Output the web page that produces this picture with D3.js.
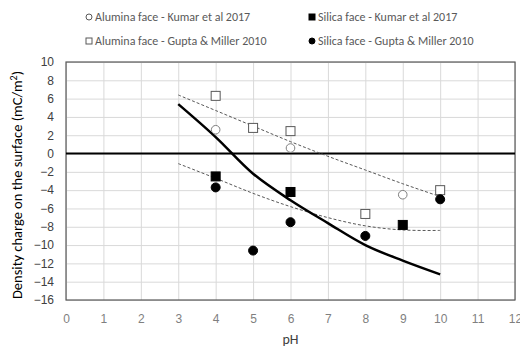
<!DOCTYPE html>
<html>
<head>
<meta charset="utf-8">
<script src="https://cdn.jsdelivr.net/npm/d3@7"></script>
<style>
  body { margin: 0; background: #fff; }
  svg { font-family: Carlito, "Open Sans", "Liberation Sans", sans-serif; }
</style>
</head>
<body>
<div class="c-chart"></div>
<script>
var aluminaKumar = [[4, 2.6], [6, 0.6], [9, -4.5]];
var silicaKumar = [[4, -2.5], [6, -4.2], [9, -7.8]];
var aluminaGupta = [[4, 6.3], [5, 2.8], [6, 2.45], [8, -6.6], [10, -4.0]];
var silicaGupta = [[4, -3.7], [5, -10.6], [6, -7.5], [8, -9.0], [10, -5.0]];

// model curves
var modelLine = [[3, 5.4], [4, 1.8], [5, -2.2], [6, -5.1], [7, -7.6], [8, -10.0], [9, -11.7], [10, -13.2]];
var upperTrend = [[3, 6.4], [4, 4.7], [5, 3.0], [6, 1.3], [7, -0.3], [8, -1.8], [9, -3.3], [10, -4.7]];
var lowerTrend = [[3, -1.1], [4, -2.7], [5, -4.35], [6, -5.8], [7, -7.0], [8, -7.9], [9, -8.35], [10, -8.4]];

var xTicks = d3.range(0, 13, 1);
var yTicks = d3.range(-16, 11, 2);

var legendItems = [
    { label: "Alumina face - Kumar et al 2017", shape: "circle", fill: false },
    { label: "Silica face - Kumar et al 2017", shape: "square", fill: true },
    { label: "Alumina face - Gupta & Miller 2010", shape: "square", fill: false },
    { label: "Silica face - Gupta & Miller 2010", shape: "circle", fill: true }
];

var W = 520, H = 349;
var margin = { top: 62, right: 5, bottom: 49, left: 66 };
var width = W - margin.left - margin.right;
var height = H - margin.top - margin.bottom;

var svg = d3.select(".c-chart").append("svg")
    .attr("width", W).attr("height", H);

var g = svg.append("g")
    .attr("transform", "translate(" + margin.left + "," + margin.top + ")");

var xScale = d3.scaleLinear().domain([0, 12]).range([0, width]);
var yScale = d3.scaleLinear().domain([-16, 10]).range([height, 0]);

// grid
g.append("g")
    .attr("transform", "translate(0," + height + ")")
    .call(d3.axisBottom(xScale).tickValues(xTicks).tickSize(-height).tickFormat(""))
    .call(function (s) {
        s.select(".domain").remove();
        s.selectAll("line").attr("stroke", "#d9d9d9");
    });
g.append("g")
    .call(d3.axisLeft(yScale).tickValues(yTicks).tickSize(-width).tickFormat(""))
    .call(function (s) {
        s.select(".domain").remove();
        s.selectAll("line").attr("stroke", "#d9d9d9");
    });

// frame
g.append("rect")
    .attr("width", width).attr("height", height)
    .attr("fill", "none").attr("stroke", "#595959").attr("stroke-width", 1.2);

// axis labels
var xAxis = g.append("g")
    .attr("transform", "translate(0," + height + ")")
    .call(d3.axisBottom(xScale).tickValues(xTicks).tickSize(0).tickPadding(14));
xAxis.select(".domain").remove();
xAxis.selectAll("text").attr("fill", "#7f7f7f").style("font-size", "12px");

var yAxis = g.append("g")
    .call(d3.axisLeft(yScale).tickValues(yTicks).tickSize(0).tickPadding(12));
yAxis.select(".domain").remove();
yAxis.selectAll("text").attr("fill", "#404040").style("font-size", "12px");

// zero line
g.append("line")
    .attr("x1", 0).attr("x2", width)
    .attr("y1", yScale(0)).attr("y2", yScale(0))
    .attr("stroke", "#000").attr("stroke-width", 2);

var line = d3.line()
    .x(function (d) { return xScale(d[0]); })
    .y(function (d) { return yScale(d[1]); })
    .curve(d3.curveCatmullRom);

g.append("path").datum(upperTrend).attr("d", line)
    .attr("fill", "none").attr("stroke", "#595959").attr("stroke-width", 1)
    .attr("stroke-dasharray", "3,2");
g.append("path").datum(lowerTrend).attr("d", line)
    .attr("fill", "none").attr("stroke", "#595959").attr("stroke-width", 1)
    .attr("stroke-dasharray", "3,2");
g.append("path").datum(modelLine).attr("d", line)
    .attr("fill", "none").attr("stroke", "#000").attr("stroke-width", 2.5);

function drawMarkers(data, shape, filled) {
    var sel = g.append("g").selectAll(shape === "circle" ? "circle" : "rect")
        .data(data).enter();
    if (shape === "circle") {
        sel.append("circle")
            .attr("cx", function (d) { return xScale(d[0]); })
            .attr("cy", function (d) { return yScale(d[1]); })
            .attr("r", filled ? 4.5 : 4.3)
            .attr("fill", filled ? "#000" : "#fff")
            .attr("stroke", filled ? "#000" : "#7f7f7f")
            .attr("stroke-width", 1);
    } else {
        sel.append("rect")
            .attr("x", function (d) { return xScale(d[0]) - 4.5; })
            .attr("y", function (d) { return yScale(d[1]) - 4.5; })
            .attr("width", 9).attr("height", 9)
            .attr("fill", filled ? "#000" : "#fff")
            .attr("stroke", filled ? "#000" : "#595959")
            .attr("stroke-width", 1);
    }
}
drawMarkers(aluminaKumar, "circle", false);
drawMarkers(silicaKumar, "square", true);
drawMarkers(aluminaGupta, "square", false);
drawMarkers(silicaGupta, "circle", true);

// axis titles
svg.append("text")
    .attr("x", margin.left + xScale(6)).attr("y", 344)
    .attr("text-anchor", "middle")
    .attr("fill", "#404040").style("font-size", "14px")
    .text("pH");

var yTitle = svg.append("text")
    .attr("transform", "translate(22," + (margin.top + height / 2 + 4) + ") rotate(-90)")
    .attr("text-anchor", "middle")
    .attr("fill", "#000").style("font-size", "14.5px");
yTitle.append("tspan").text("Density charge  on the surface (mC/m");
yTitle.append("tspan").attr("dy", -5).style("font-size", "10px").text("2");
yTitle.append("tspan").attr("dy", 5).text(")");

// legend
var legendPos = [[89, 17], [312, 17], [89, 41], [312, 41]];
legendItems.forEach(function (item, i) {
    var lx = legendPos[i][0], ly = legendPos[i][1];
    if (item.shape === "circle") {
        svg.append("circle").attr("cx", lx).attr("cy", ly).attr("r", 3)
            .attr("fill", item.fill ? "#000" : "#fff")
            .attr("stroke", item.fill ? "#000" : "#595959");
    } else {
        svg.append("rect").attr("x", lx - 3).attr("y", ly - 3)
            .attr("width", 6).attr("height", 6)
            .attr("fill", item.fill ? "#000" : "#fff")
            .attr("stroke", item.fill ? "#000" : "#595959");
    }
    svg.append("text")
        .attr("x", lx + 6).attr("y", ly + 4)
        .attr("fill", "#595959").style("font-size", "12px")
        .text(item.label);
});
</script>
</body>
</html>
